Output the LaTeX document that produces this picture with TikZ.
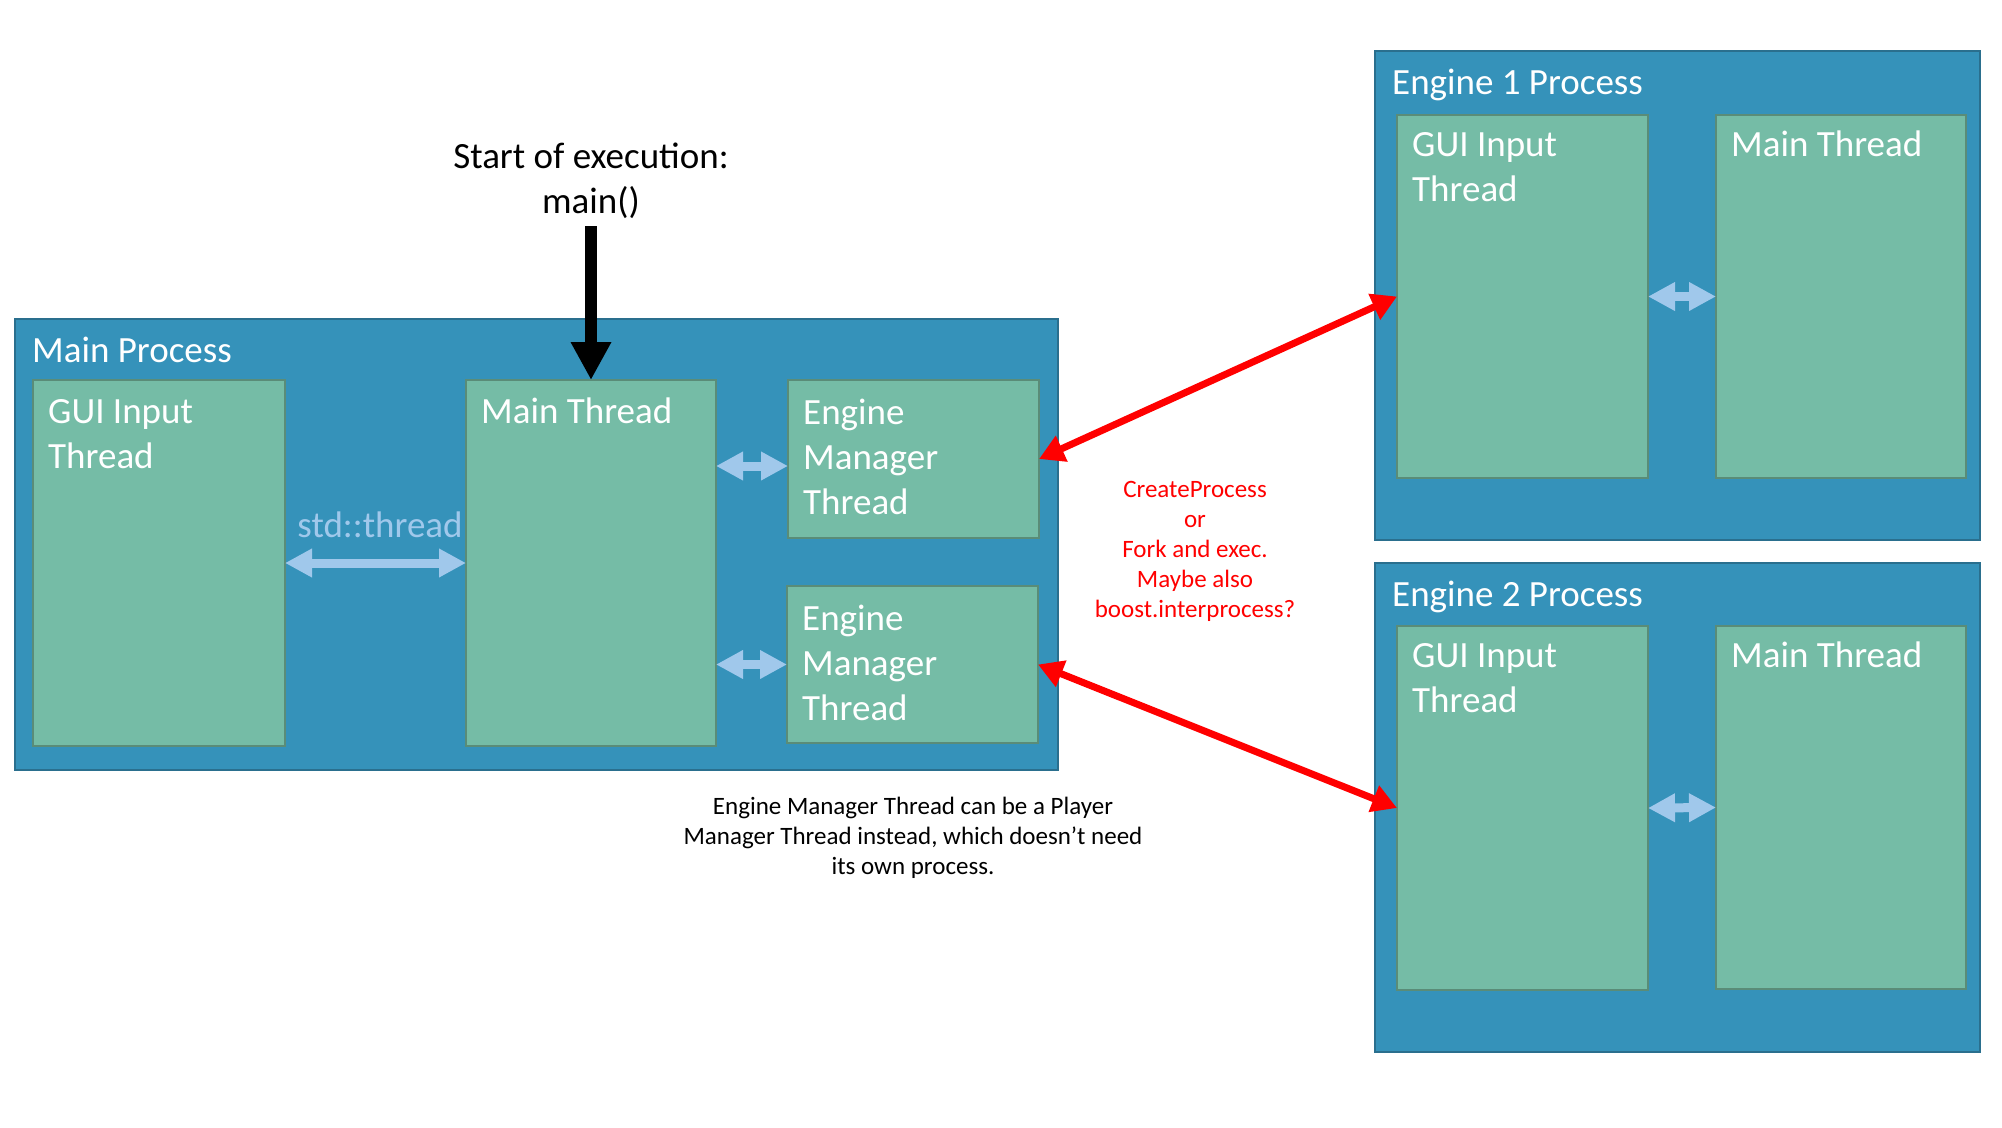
\documentclass[tikz,border=0pt]{standalone}
\usepackage{fontspec}
\setmainfont{Carlito}
\usetikzlibrary{arrows.meta,calc}
\definecolor{procfill}{HTML}{3592BA}
\definecolor{procdraw}{HTML}{2A6F8E}
\definecolor{thrfill}{HTML}{75BCA6}
\definecolor{thrdraw}{HTML}{5A8C78}
\definecolor{lightblue}{HTML}{A0C8EB}
\definecolor{pureRed}{HTML}{FF0000}
\begin{document}
\begin{tikzpicture}[x=1pt,y=-1pt,
  proc/.style={draw=procdraw, line width=2pt, fill=procfill, anchor=north west, inner sep=0pt, outer sep=0pt},
  thr/.style={draw=thrdraw, line width=2pt, fill=thrfill, anchor=north west, inner sep=0pt, outer sep=0pt},
  big/.style={font=\fontsize{37}{45}\selectfont},
  lbl/.style={big, text=white, anchor=north west, align=left, inner sep=0pt},
  small/.style={font=\fontsize{25}{30}\selectfont, align=center, anchor=north, inner sep=0pt},
  lb/.style={draw=lightblue, line width=9pt, >={Triangle[width=27pt,length=27pt]}, <->},
  redarrow/.style={draw=pureRed, line width=7pt, >={Triangle[width=27pt,length=25pt]}, <->},
  blackarrow/.style={draw=black, line width=12pt, >={Triangle[width=38pt,length=38pt]}, ->}
]
\path[use as bounding box, fill=white] (0,0) rectangle (2002,1127);

% Main process
\node[proc, minimum width=1043pt, minimum height=451pt] (mp) at (15,319) {};
\node[thr, minimum width=252pt, minimum height=366pt] (mgui) at (33,380) {};
\node[thr, minimum width=250pt, minimum height=366pt] (mmain) at (466,380) {};
\node[thr, minimum width=251pt, minimum height=158pt] (emt1) at (788,380) {};
\node[thr, minimum width=251pt, minimum height=157pt] (emt2) at (787,586) {};

% Engine 1 process
\node[proc, minimum width=605pt, minimum height=489pt] (e1) at (1375,51) {};
\node[thr, minimum width=251pt, minimum height=363pt] (e1gui) at (1397,115) {};
\node[thr, minimum width=250pt, minimum height=363pt] (e1main) at (1716,115) {};

% Engine 2 process
\node[proc, minimum width=605pt, minimum height=489pt] (e2) at (1375,563) {};
\node[thr, minimum width=251pt, minimum height=364pt] (e2gui) at (1397,626) {};
\node[thr, minimum width=250pt, minimum height=363pt] (e2main) at (1716,626) {};

% Labels
\node[lbl] (mpT) at ($(mp.north west)+(17,18)$) {Main Process};
\node[lbl] (mguiT) at ($(mgui.north west)+(15,19)$) {GUI Input\\Thread};
\node[lbl] (mmainT) at ($(mmain.north west)+(15,18)$) {Main Thread};
\node[lbl] (emt1T) at ($(emt1.north west)+(15,19)$) {Engine\\Manager\\Thread};
\node[lbl] (emt2T) at ($(emt2.north west)+(15,19)$) {Engine\\Manager\\Thread};
\node[lbl] (e1T) at ($(e1.north west)+(17,18)$) {Engine 1 Process};
\node[lbl] (e1guiT) at ($(e1gui.north west)+(15,17)$) {GUI Input\\Thread};
\node[lbl] (e1mainT) at ($(e1main.north west)+(15,16)$) {Main Thread};
\node[lbl] (e2T) at ($(e2.north west)+(17,18)$) {Engine 2 Process};
\node[lbl] (e2guiT) at ($(e2gui.north west)+(15,17)$) {GUI Input\\Thread};
\node[lbl] (e2mainT) at ($(e2main.north west)+(15,16)$) {Main Thread};

\node[big, text=lightblue, anchor=base, inner sep=0pt] (std) at (380,537) {std::thread};

\node[big, align=center, anchor=north, inner sep=0pt] (start) at (591,143) {Start of execution:\\main()};
\coordinate (startpt) at (591,226);

\node[small, text=pureRed] (red) at (1195,481) {CreateProcess\\or\\Fork and exec.\\Maybe also\\boost.interprocess?};
\node[small, text=black] (note) at (913,797) {Engine Manager Thread can be a Player\\Manager Thread instead, which doesn’t need\\its own process.};

% Connectors
\draw[blackarrow] (startpt) -- (mmain.north);
\draw[lb] (mgui.east) -- (mmain.west);
\draw[lb] ([yshift=-7pt]mmain.east |- emt1.west) -- ([yshift=-7pt]emt1.west);
\draw[lb] (mmain.east |- emt2.west) -- (emt2.west);
\draw[lb] (e1gui.east) -- (e1main.west);
\draw[lb] (e2gui.east) -- (e2main.west);
\draw[redarrow] (emt1.east) -- (e1gui.west);
\draw[redarrow] (emt2.east) -- (e2gui.west);
\end{tikzpicture}
\end{document}
